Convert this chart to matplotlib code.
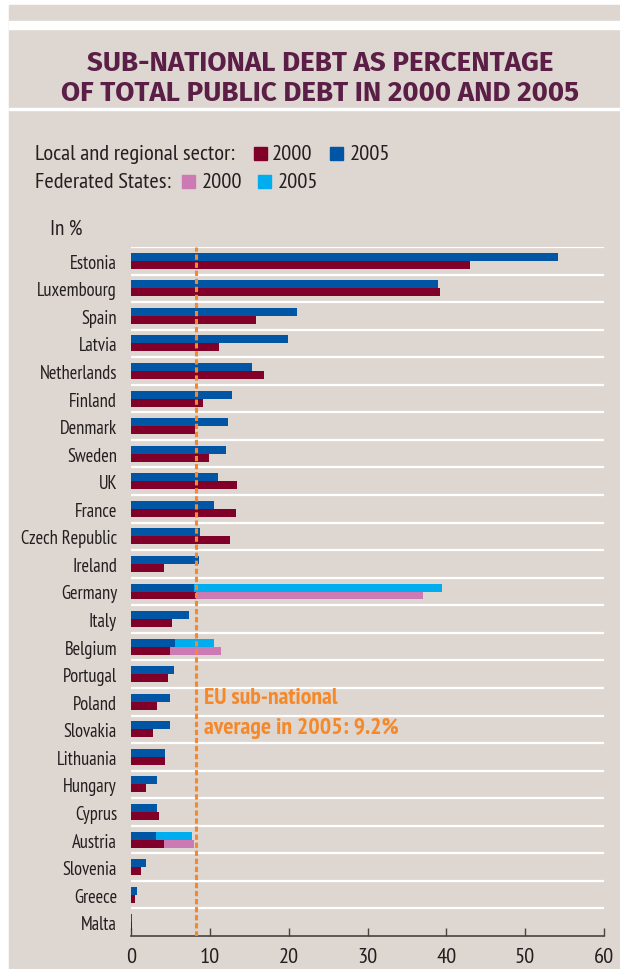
import matplotlib
matplotlib.use("Agg")
import matplotlib.pyplot as plt
from matplotlib import font_manager
from matplotlib.patches import Rectangle
import numpy as np

# data (in %)
countries = ["Estonia", "Luxembourg", "Spain", "Latvia", "Netherlands", "Finland",
             "Denmark", "Sweden", "UK", "France", "Czech Republic", "Ireland",
             "Germany", "Italy", "Belgium", "Portugal", "Poland", "Slovakia",
             "Lithuania", "Hungary", "Cyprus", "Austria", "Slovenia", "Greece", "Malta"]
local_2005 = [54.2, 38.9, 21.0, 19.9, 15.4, 12.8, 12.3, 12.0, 11.0, 10.5, 8.8, 8.6,
              8.0, 7.3, 5.6, 5.4, 5.0, 4.9, 4.3, 3.3, 3.3, 3.2, 1.9, 0.7, 0.1]
local_2000 = [43.0, 39.2, 15.9, 11.2, 16.9, 9.1, 8.1, 9.9, 13.4, 13.3, 12.5, 4.2,
              8.3, 5.2, 4.9, 4.7, 3.3, 2.8, 4.3, 1.9, 3.5, 4.2, 1.25, 0.45, 0.1]
# federated states share, stacked after local sector
fed_2005 = {"Germany": 31.5, "Belgium": 4.9, "Austria": 4.5}
fed_2000 = {"Germany": 28.8, "Belgium": 6.5, "Austria": 3.8}
eu_avg_line = 8.25
xticks = [0, 10, 20, 30, 40, 50, 60]

BG = "#ded6d0"
RED = "#80002a"
BLUE = "#0055a4"
PINK = "#cc7ab4"
CYAN = "#00aeef"
ORANGE = "#f5892a"
PLUM = "#5b1e47"
TXT = "#231f20"

names = {f.name for f in font_manager.fontManager.ttflist}


def pick(cands):
    for c in cands:
        if c in names:
            return c
    return "DejaVu Sans"


cond = pick(["PT Sans Narrow", "Roboto Condensed", "Open Sans Condensed",
             "Fira Sans Condensed", "Liberation Sans Narrow"])
head = pick(["Fira Sans", "Open Sans"])
plt.rcParams["font.family"] = [cond, "DejaVu Sans"]
plt.rcParams["lines.scale_dashes"] = False

W, H = 620, 970
fig = plt.figure(figsize=(W / 100, H / 100), dpi=100, facecolor="white")
renderer = fig.canvas.get_renderer()


def px(x, y):
    return x / W, 1 - y / H


def band(x0, y0, x1, y1, color):
    fig.patches.append(Rectangle((x0 / W, 1 - y1 / H), (x1 - x0) / W, (y1 - y0) / H,
                                 transform=fig.transFigure, color=color, zorder=0))


def fit(t, width):
    # scale the font so the text spans about the width seen in the reference
    w = t.get_window_extent(renderer).width
    t.set_fontsize(t.get_fontsize() * width / w)
    return t


def fit_size(s, width, **kw):
    probe = fig.text(0, 0, s, fontsize=12, **kw)
    fit(probe, width)
    fs = probe.get_fontsize()
    probe.remove()
    return fs


band(9, 6, W, H, BG)
band(9, 22, W, 30, "white")
band(9, 108.5, W, 111, "white")

t1 = fig.text(*px(320, 63), "SUB-NATIONAL DEBT AS PERCENTAGE", ha="center", va="center",
              fontsize=20, fontweight="bold", color=PLUM, family=[head, "DejaVu Sans"])
fit(t1, 467)
fig.text(*px(320, 93), "OF TOTAL PUBLIC DEBT IN 2000 AND 2005", ha="center", va="center",
         fontsize=t1.get_fontsize(), fontweight="bold", color=PLUM, family=[head, "DejaVu Sans"])

# legend rows
lt = fig.text(*px(35, 155), "Local and regional sector:", va="center", fontsize=14, color=TXT)
fit(lt, 201)
leg_fs = lt.get_fontsize()
band(254, 148, 267, 161, RED)
fig.text(*px(272, 155), "2000", va="center", fontsize=leg_fs, color=TXT)
band(330, 148, 343, 161, BLUE)
fig.text(*px(350, 155), "2005", va="center", fontsize=leg_fs, color=TXT)
fig.text(*px(35, 183), "Federated States:", va="center", fontsize=leg_fs, color=TXT)
band(182, 176, 195, 189, PINK)
fig.text(*px(202, 183), "2000", va="center", fontsize=leg_fs, color=TXT)
band(258, 176, 271, 189, CYAN)
fig.text(*px(278, 183), "2005", va="center", fontsize=leg_fs, color=TXT)
fig.text(*px(50, 229), "In %", va="center", fontsize=leg_fs * 0.95, color=TXT)

ax = fig.add_axes([131 / W, 1 - 937 / H, (604 - 131) / W, (937 - 248) / H])
ax.set_zorder(2)
ax.patch.set_alpha(0)

y = np.arange(len(countries))
bh = 0.29
f05 = [fed_2005.get(c, 0) for c in countries]
f00 = [fed_2000.get(c, 0) for c in countries]
ax.barh(y - bh / 2, local_2005, height=bh, color=BLUE, zorder=3)
ax.barh(y + bh / 2, local_2000, height=bh, color=RED, zorder=3)
ax.barh(y - bh / 2, f05, left=local_2005, height=bh, color=CYAN, zorder=3)
ax.barh(y + bh / 2, f00, left=local_2000, height=bh, color=PINK, zorder=3)

for b in np.arange(-0.5, len(countries) - 1, 1.0):
    ax.axhline(b, color="white", lw=1.6, zorder=1)

ax.axvline(eu_avg_line, color=ORANGE, lw=2.2, dashes=(3.8, 2.0), zorder=4)
a1 = ax.text(9.3, 15.85, "EU sub-national", fontsize=15, fontweight="bold", color=ORANGE, va="center")
a2 = ax.text(9.3, 16.95, "average in 2005: 9.2%", fontsize=15, fontweight="bold", color=ORANGE, va="center")
fit(a2, 196)
a1.set_fontsize(a2.get_fontsize())

tick_fs = fit_size("Czech Republic", 97)
xtick_fs = fit_size("10", 20)

ax.set_xlim(0, 60)
ax.set_ylim(len(countries) - 0.5, -0.5)
ax.set_yticks(y)
ax.set_yticklabels(countries, fontsize=tick_fs, color=TXT)
ax.set_xticks(xticks)
ax.set_xticklabels([str(t) for t in xticks], fontsize=xtick_fs, color=TXT)
ax.tick_params(axis="y", length=0, pad=10)
ax.tick_params(axis="x", direction="in", length=6, width=1, color="#444444", pad=8)
for s in ["top", "right", "left"]:
    ax.spines[s].set_visible(False)
ax.spines["bottom"].set_color("#444444")
ax.spines["bottom"].set_linewidth(1.2)

fig.savefig("out.png", dpi=100, facecolor="white")
